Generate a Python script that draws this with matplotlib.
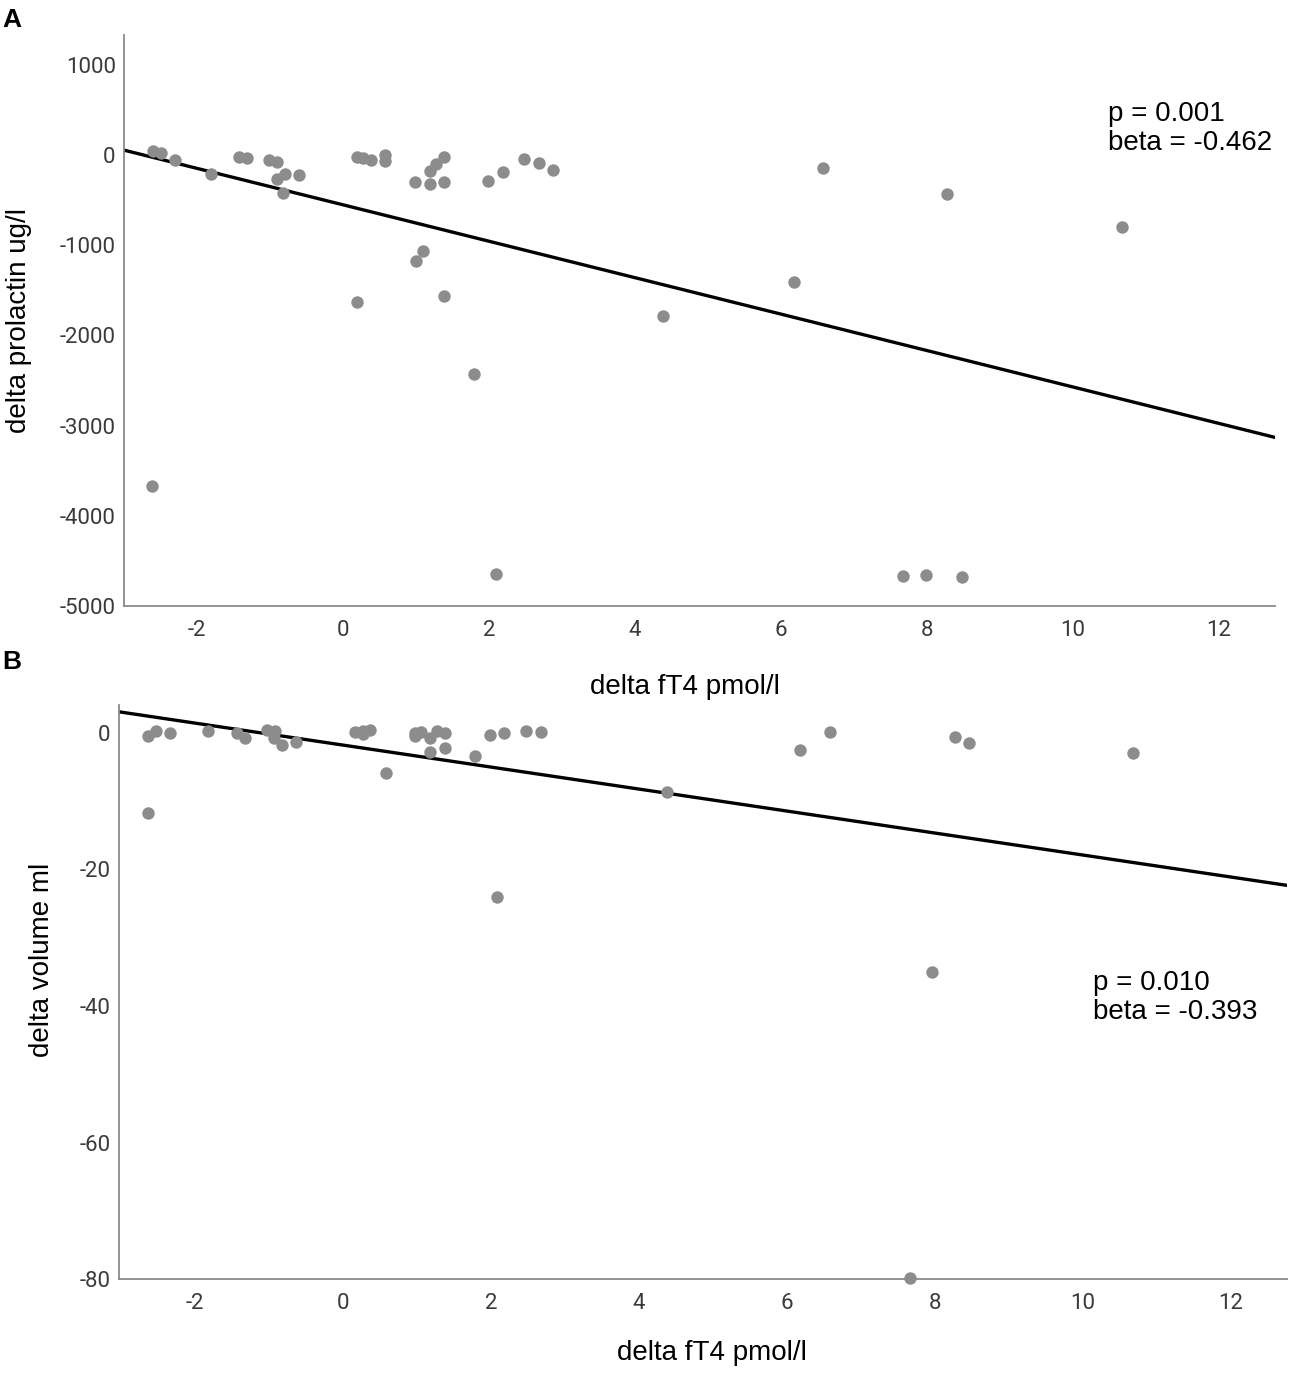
import numpy as np
import matplotlib
matplotlib.use('Agg')
import matplotlib.pyplot as plt

plt.rcParams['font.family'] = ['Liberation Sans', 'DejaVu Sans']
plt.rcParams['axes.unicode_minus'] = False

# panel A: delta fT4 vs delta prolactin
fT4_a = [-2.61, -2.50, -2.30, -1.81, -1.42, -1.32, -1.02, -0.91, -0.80, -0.91, -0.82, -0.60,
         0.19, 0.28, 0.39, 0.58, 0.58, 0.99, 1.19, 1.39, 1.19, 1.28, 1.39, 1.99, 2.19, 2.48,
         2.68, 2.88, 1.09, 1.00, 0.19, 1.39, -2.62, 1.79, 2.10, 4.38, 6.18, 6.58, 8.27, 10.68,
         7.68, 7.99, 8.48]
prl_a = [50, 19, -55, -214, -26, -33, -55, -78, -211, -270, -418, -222,
         -26, -37, -55, 0, -63, -296, -322, -296, -178, -103, -26, -285, -192, -48,
         -89, -170, -1065, -1173, -1628, -1565, -3674, -2431, -4650, -1787, -1410, -144, -433, -799,
         -4673, -4661, -4684]
fit_a = [-551, -202]  # intercept, slope

# panel B: delta fT4 vs delta volume
fT4_b = [-2.64, -2.53, -2.34, -1.83, -1.44, -1.32, -1.03, -0.92, -0.94, -0.83, -0.63,
         0.16, 0.27, 0.37, 0.27, 0.58, 0.97, 1.06, 0.97, 1.18, 1.27, 1.38, 1.18, 1.38, 1.78,
         1.98, 2.18, 2.47, 2.68, -2.64, 2.08, 4.38, 6.18, 6.58, 8.27, 8.46, 7.96, 7.66, 10.68]
vol_b = [-0.4, 0.3, 0.0, 0.3, 0.0, -0.8, 0.4, 0.3, -0.7, -1.8, -1.3,
         0.2, 0.3, 0.4, -0.1, -5.9, 0.0, 0.1, -0.5, -0.8, 0.3, 0.0, -2.75, -2.25, -3.4,
         -0.3, 0.0, 0.3, 0.2, -11.8, -24.0, -8.7, -2.5, 0.15, -0.6, -1.5, -35.0, -79.9, -2.9]
fit_b = [-1.78, -1.61]

xticks = [-2, 0, 2, 4, 6, 8, 10, 12]

fig = plt.figure(figsize=(12.99, 13.75), dpi=100)
ax1 = fig.add_axes([0.0955, 0.5593, 0.886, 0.4153])
ax2 = fig.add_axes([0.0916, 0.0698, 0.899, 0.4175])
ax2.patch.set_visible(False)

def style(ax):
    for s in ['top', 'right']:
        ax.spines[s].set_visible(False)
    for s in ['left', 'bottom']:
        ax.spines[s].set_color('#8a8a8a')
        ax.spines[s].set_linewidth(1.3)
    ax.tick_params(length=0, labelsize=16, labelcolor='#3a3a3a')
    ax.tick_params(axis='y', pad=6)
    ax.tick_params(axis='x', pad=10)
    for lab in ax.get_xticklabels() + ax.get_yticklabels():
        lab.set_family(['Roboto', 'DejaVu Sans'])

# A
ax1.scatter(fT4_a, prl_a, s=80, color='#8c8c8c', zorder=3, linewidths=0)
xa = np.array([-3.0, 12.77])
ax1.plot(xa, fit_a[0] + fit_a[1] * xa, color='black', lw=2.4, zorder=2)
ax1.set_xlim(-3.0, 12.77)
ax1.set_ylim(-5000, 1333)
ax1.set_xticks(xticks)
ax1.set_yticks([1000, 0, -1000, -2000, -3000, -4000, -5000])
style(ax1)
ax1.set_xlabel('delta fT4 pmol/l', fontsize=20)
ax1.set_ylabel('delta prolactin ug/l', fontsize=20)
ax1.xaxis.set_label_coords(0.487, -0.12)
ax1.yaxis.set_label_coords(-0.08, 0.50)
ax1.text(10.48, 600, 'p = 0.001\nbeta = -0.462', fontsize=20, va='top', ha='left',
         linespacing=1.15)

# B
ax2.scatter(fT4_b, vol_b, s=80, color='#8c8c8c', zorder=3, linewidths=0, clip_on=False)
xb = np.array([-3.03, 12.76])
ax2.plot(xb, fit_b[0] + fit_b[1] * xb, color='black', lw=2.4, zorder=2)
ax2.set_xlim(-3.03, 12.76)
ax2.set_ylim(-80, 4.1)
ax2.set_xticks(xticks)
ax2.set_yticks([0, -20, -40, -60, -80])
style(ax2)
ax2.set_xlabel('delta fT4 pmol/l', fontsize=20)
ax2.set_ylabel('delta volume ml', fontsize=20)
ax2.xaxis.set_label_coords(0.508, -0.107)
ax2.yaxis.set_label_coords(-0.055, 0.556)
ax2.text(10.14, -34.7, 'p = 0.010\nbeta = -0.393', fontsize=20, va='top', ha='left',
         linespacing=1.15)

fig.text(0.002, 0.994, 'A', fontsize=19, fontweight='bold', va='top')
fig.text(0.002, 0.527, 'B', fontsize=19, fontweight='bold', va='top')

fig.savefig('out.png', dpi=100)
